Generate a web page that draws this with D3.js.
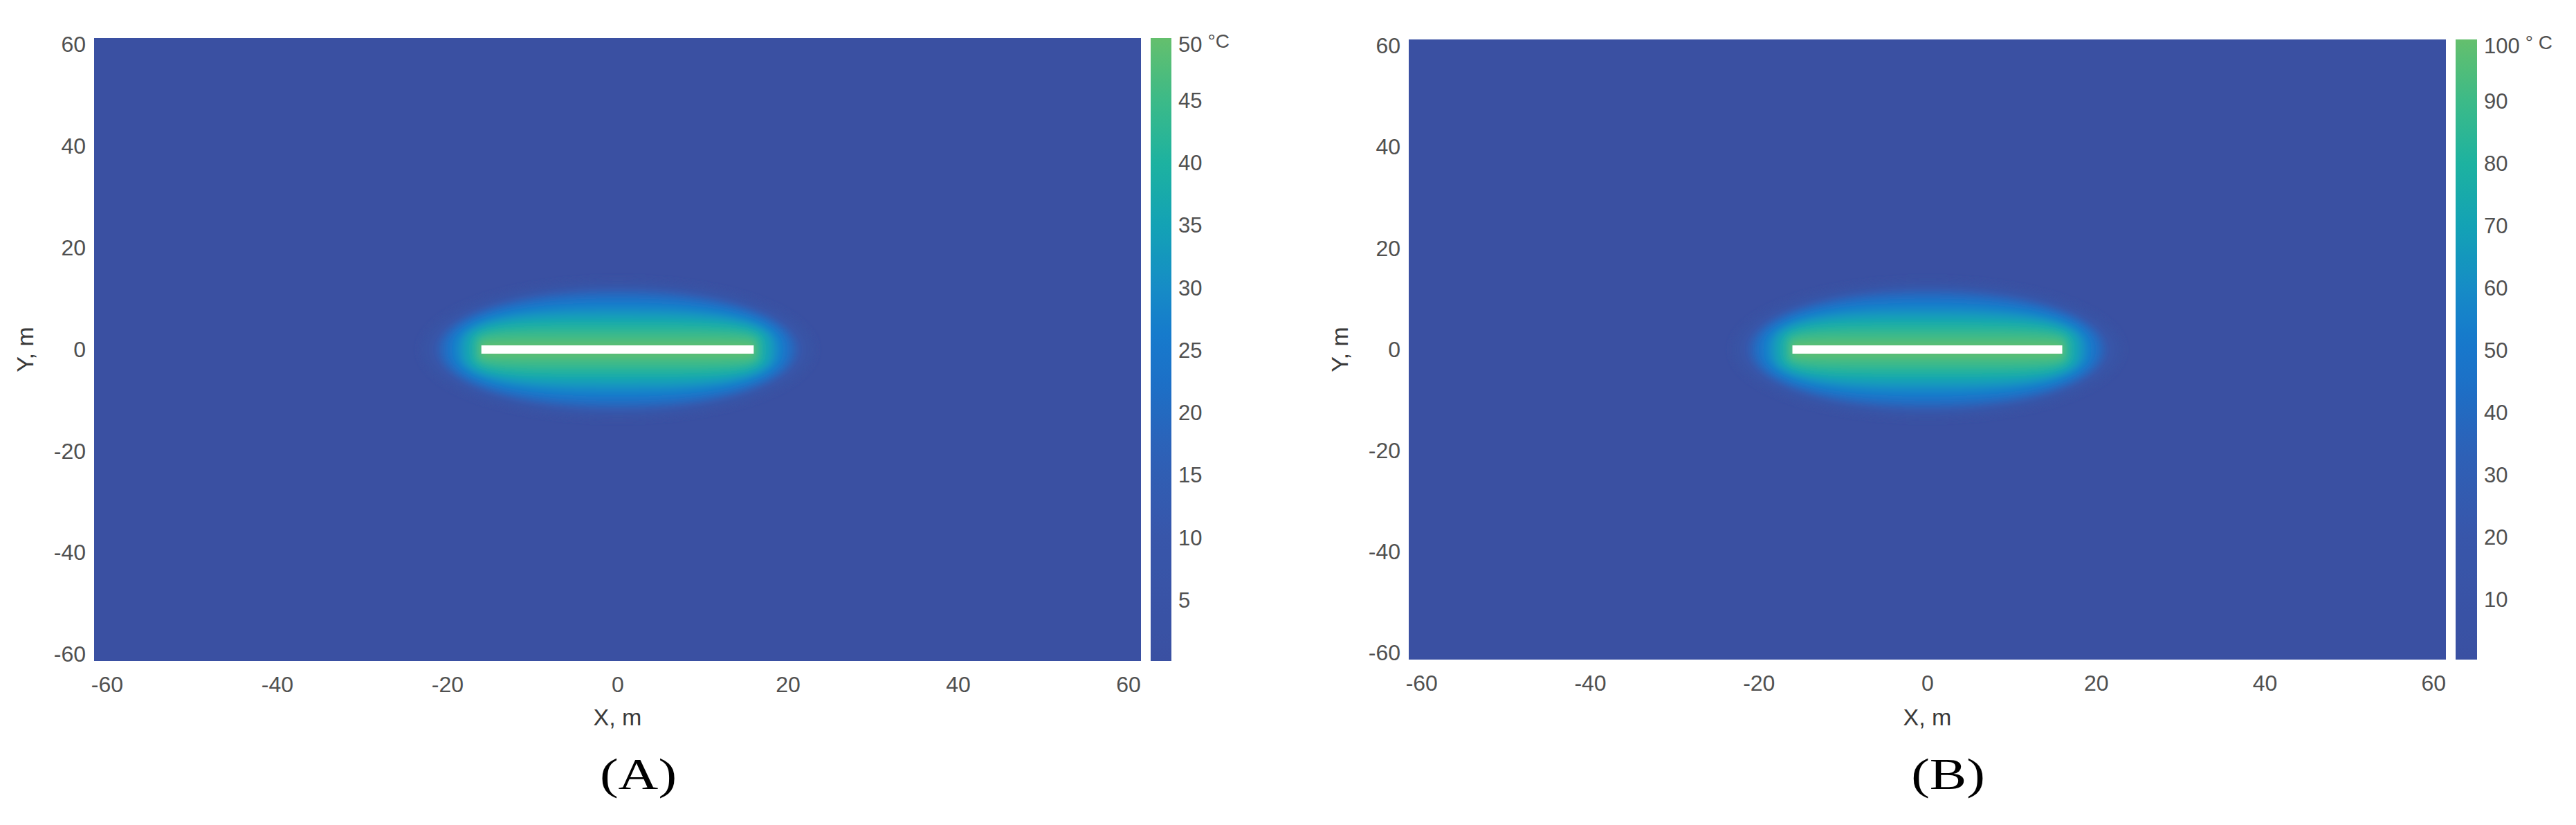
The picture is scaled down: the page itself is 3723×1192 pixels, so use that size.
<!DOCTYPE html>
<html>
<head>
<meta charset="utf-8">
<script src="https://cdn.jsdelivr.net/npm/d3@7/dist/d3.min.js"></script>
<style>
  html, body { margin: 0; padding: 0; background: #ffffff; }
  svg { display: block; }
</style>
</head>
<body>
<svg id="chart" width="3723" height="1192"></svg>
<script>
// ---------------- DATA ----------------
const xTicks = [-60, -40, -20, 0, 20, 40, 60];
const yTicks = [-60, -40, -20, 0, 20, 40, 60];
const xDomain = [-61.5, 61.5];
const yDomain = [-61.3, 61.3];

// heat source (white line), metres
const sourceX = [-16, 16];
const sourceY = [0, 0];

// background temperature of the field
const backgroundA = 0.6;
const backgroundB = 1.2;

const levelsA = [3, 8, 14, 19, 23, 27, 31, 35, 39, 43, 46, 49];
const levelsB = [6, 16, 28, 38, 46, 54, 62, 70, 78, 86, 92, 98];
const contourHalfX = [23.2, 22.2, 21.4, 20.8, 20.2, 19.5, 18.8, 18.1, 17.3, 16.7, 16.3, 16.0];
const contourHalfY = [13.8, 12.9, 12.1, 11.3, 10.4, 9.3, 8.1, 6.8, 5.5, 4.1, 2.8, 1.5];
const contourRound = [2.0, 2.0, 2.0, 2.1, 2.2, 2.4, 2.6, 3.0, 3.6, 4.5, 6.0, 8.0];

// colour bars
const cbarTicksA = [5, 10, 15, 20, 25, 30, 35, 40, 45, 50];
const cbarTicksB = [10, 20, 30, 40, 50, 60, 70, 80, 90, 100];
const cbarDomainA = [0.15, 50];
const cbarDomainB = [0.4, 100];

const panelLabels = ["(A)", "(B)"];
const xTitle = "X, m";
const yTitle = "Y, m";

// ---------------- STYLE ----------------
const stopT = [0.0, 0.2, 0.34, 0.44, 0.52, 0.6, 0.7, 0.8, 0.9, 1.0];
const stopC = ["#3a50a2", "#3856aa", "#2d61b7", "#1d6fc6", "#1679cc", "#168cc6", "#13a2b5", "#1db2a0", "#3cba88", "#64bf6d"];

const panels = [
  { plot: { x0: 136, x1: 1649, y0: 55, y1: 955 }, cbar: { x0: 1663, x1: 1693 },
    levels: levelsA, bg: backgroundA, cticks: cbarTicksA, cdom: cbarDomainA, unit: "°C", label: panelLabels[0] },
  { plot: { x0: 2036, x1: 3535, y0: 57, y1: 953 }, cbar: { x0: 3549, x1: 3580 },
    levels: levelsB, bg: backgroundB, cticks: cbarTicksB, cdom: cbarDomainB, unit: "° C", label: panelLabels[1] }
];

const svg = d3.select("#chart");
const defs = svg.append("defs");
defs.append("filter").attr("id", "soft")
  .attr("x", "-20%").attr("y", "-40%").attr("width", "140%").attr("height", "180%")
  .append("feGaussianBlur").attr("stdDeviation", "5 4");

const tickFont = "'Liberation Sans', Arial, sans-serif";
const fmt = d => String(d).replace("\u2212", "-");

panels.forEach((p, pi) => {
  const vmax = p.cdom[1];
  const color = d3.scaleLinear().domain(stopT.map(t => t * vmax)).range(stopC)
    .interpolate(d3.interpolateRgb).clamp(true);

  const x = d3.scaleLinear().domain(xDomain).range([p.plot.x0, p.plot.x1]);
  const y = d3.scaleLinear().domain(yDomain).range([p.plot.y1, p.plot.y0]);

  const g = svg.append("g");
  const clipId = "clip" + pi;
  defs.append("clipPath").attr("id", clipId).append("rect")
    .attr("x", p.plot.x0).attr("y", p.plot.y0)
    .attr("width", p.plot.x1 - p.plot.x0).attr("height", p.plot.y1 - p.plot.y0);

  const plotG = g.append("g").attr("clip-path", `url(#${clipId})`);
  plotG.append("rect")
    .attr("x", p.plot.x0).attr("y", p.plot.y0)
    .attr("width", p.plot.x1 - p.plot.x0).attr("height", p.plot.y1 - p.plot.y0)
    .attr("fill", color(p.bg));

  // isotherm bands (outer -> inner), softened
  const bandG = plotG.append("g").attr("filter", "url(#soft)");
  const line = d3.line().curve(d3.curveLinearClosed);
  const N = 240;
  p.levels.forEach((lv, i) => {
    const a = contourHalfX[i], b = contourHalfY[i], n = contourRound[i];
    const pts = d3.range(N).map(k => {
      const t = (k / N) * 2 * Math.PI;
      const c = Math.cos(t), s = Math.sin(t);
      const ux = a * Math.sign(c) * Math.pow(Math.abs(c), 2 / n);
      const uy = b * Math.sign(s) * Math.pow(Math.abs(s), 2 / n);
      return [x(ux), y(uy)];
    });
    bandG.append("path").attr("d", line(pts)).attr("fill", color(lv));
  });

  // heat source line
  plotG.append("line")
    .attr("x1", x(sourceX[0])).attr("x2", x(sourceX[1]))
    .attr("y1", y(sourceY[0])).attr("y2", y(sourceY[1]))
    .attr("stroke", "#ffffff").attr("stroke-width", 12).attr("stroke-linecap", "butt");

  // axes
  const xAxis = d3.axisBottom(x).tickValues(xTicks).tickFormat(fmt).tickSize(0).tickPadding(22);
  const ax = g.append("g").attr("transform", `translate(0,${p.plot.y1})`).call(xAxis);
  const yAxis = d3.axisLeft(y).tickValues(yTicks).tickFormat(fmt).tickSize(0).tickPadding(12);
  const ay = g.append("g").attr("transform", `translate(${p.plot.x0},0)`).call(yAxis);
  [ax, ay].forEach(a => {
    a.select(".domain").remove();
    a.selectAll("text").attr("font-family", tickFont).attr("font-size", 32).attr("fill", "#505050");
  });

  // axis titles
  g.append("text").text(xTitle)
    .attr("x", x(0)).attr("y", 1048)
    .attr("text-anchor", "middle").attr("font-family", tickFont)
    .attr("font-size", 34).attr("fill", "#3a3a3a");
  const yx = p.plot.x0 - 88, yy = y(0);
  g.append("text").text(yTitle)
    .attr("transform", `translate(${yx},${yy}) rotate(-90)`)
    .attr("text-anchor", "middle").attr("font-family", tickFont)
    .attr("font-size", 34).attr("fill", "#3a3a3a");

  // colour bar
  const cy = d3.scaleLinear().domain(p.cdom).range([p.plot.y1, p.plot.y0]);
  const gradId = "grad" + pi;
  const grad = defs.append("linearGradient").attr("id", gradId)
    .attr("x1", 0).attr("y1", 1).attr("x2", 0).attr("y2", 0);
  d3.range(0, 41).forEach(k => {
    const v = p.cdom[0] + (p.cdom[1] - p.cdom[0]) * k / 40;
    grad.append("stop").attr("offset", (k / 40 * 100) + "%").attr("stop-color", color(v));
  });
  g.append("rect")
    .attr("x", p.cbar.x0).attr("y", cy(p.cdom[1]))
    .attr("width", p.cbar.x1 - p.cbar.x0).attr("height", cy(p.cdom[0]) - cy(p.cdom[1]))
    .attr("fill", `url(#${gradId})`);
  const cAxis = d3.axisRight(cy).tickValues(p.cticks).tickSize(0).tickPadding(10);
  const ac = g.append("g").attr("transform", `translate(${p.cbar.x1},0)`).call(cAxis);
  ac.select(".domain").remove();
  ac.selectAll("text").attr("font-family", tickFont).attr("font-size", 31).attr("fill", "#505050");
  ac.selectAll(".tick").filter(d => d === p.cticks[p.cticks.length - 1])
    .select("text").attr("dy", "0.62em")
    .append("tspan").attr("dx", 8).attr("dy", -6).attr("font-size", 28).text(p.unit);

  // panel label
  const lx = x(0) + 30;
  g.append("text").text(p.label)
    .attr("transform", `translate(${lx},1140) scale(1.25,1)`)
    .attr("text-anchor", "middle")
    .attr("font-family", "'Liberation Serif', 'Times New Roman', serif")
    .attr("font-size", 64).attr("fill", "#000");
});
</script>
</body>
</html>
